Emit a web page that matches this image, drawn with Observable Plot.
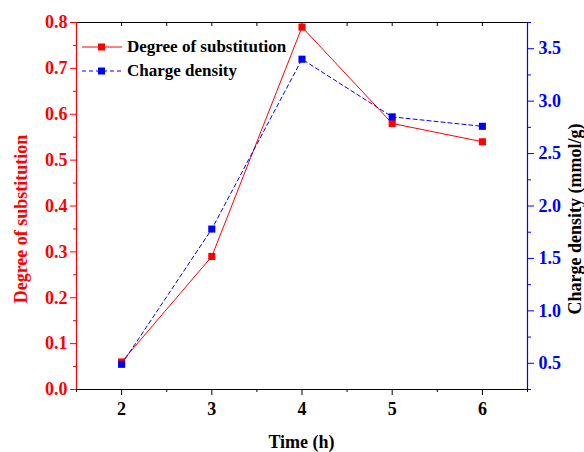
<!DOCTYPE html>
<html><head>
<meta charset="utf-8">
<script src="https://cdn.jsdelivr.net/npm/d3@7"></script>
<script src="https://cdn.jsdelivr.net/npm/@observablehq/plot@0.6"></script>
<style>body{margin:0;background:#fff;} #chart svg{display:block;}</style>
</head><body><div id="chart"></div>
<script>
const times = [2, 3, 4, 5, 6];
const degreeOfSubstitution = [0.06, 0.29, 0.79, 0.58, 0.54];
const chargeDensity = [0.49, 1.78, 3.40, 2.85, 2.76];
const xTicks = [2, 3, 4, 5, 6];
const xMinorTicks = [1.5, 2.5, 3.5, 4.5, 5.5, 6.5];
const xTopTicks = [2, 2.5, 3, 3.5, 4, 4.5, 5, 5.5, 6];
const leftTicks = [0, 0.1, 0.2, 0.3, 0.4, 0.5, 0.6, 0.7, 0.8];
const leftMinorTicks = [0.05, 0.15, 0.25, 0.35, 0.45, 0.55, 0.65, 0.75];
const rightTicks = [0.5, 1.0, 1.5, 2.0, 2.5, 3.0, 3.5];
const rightMinorTicks = [0.25, 0.75, 1.25, 1.75, 2.25, 2.75, 3.25, 3.75];
const seriesNames = ["Degree of substitution", "Charge density"];
const axisTitles = {x: "Time (h)", left: "Degree of substitution", right: "Charge density (mmol/g)"};

const xDomain = [1.5, 6.5];
const dsDomain = [0, 0.8];
const cdDomain = [0.25, 3.75];
const toY = v => dsDomain[0] + (v - cdDomain[0]) / (cdDomain[1] - cdDomain[0]) * (dsDomain[1] - dsDomain[0]);
const fromY = y => cdDomain[0] + (y - dsDomain[0]) / (dsDomain[1] - dsDomain[0]) * (cdDomain[1] - cdDomain[0]);

const RED = "#ff0000", BLUE = "#0000ff";
const DASH = "4,3";
const data = times.map((t, i) => ({t, ds: degreeOfSubstitution[i], cd: toY(chargeDensity[i])}));
const f1 = d3.format(".1f");
const blank = () => "";
const FONT = "'Liberation Serif','Times New Roman',serif";

const chart = Plot.plot({
  width: 584, height: 452,
  marginLeft: 76, marginRight: 57, marginTop: 22, marginBottom: 63,
  style: {fontFamily: FONT, fontSize: "18px", fontWeight: "bold", background: "white", overflow: "visible"},
  x: {domain: xDomain},
  y: {domain: dsDomain},
  marks: [
    Plot.ruleY([dsDomain[1]], {stroke: "black", strokeWidth: 1.2}),
    Plot.ruleY([dsDomain[0]], {stroke: "black", strokeWidth: 1.2}),
    Plot.axisX(xTicks, {anchor: "bottom", tickSize: 6, tickPadding: 7, stroke: "black", fill: "black", tickFormat: d => String(d), label: null, fontSize: 18}),
    Plot.axisX(xMinorTicks, {anchor: "bottom", tickSize: 3, stroke: "black", tickFormat: blank, label: null}),
    Plot.axisX(xTopTicks, {anchor: "top", tickSize: -3, stroke: "black", tickFormat: blank, label: null}),
    Plot.axisY(leftTicks, {anchor: "left", tickSize: 6, tickPadding: 3, color: RED, tickFormat: f1, label: null, fontSize: 18}),
    Plot.axisY(leftMinorTicks, {anchor: "left", tickSize: 3, color: RED, tickFormat: blank, label: null}),
    Plot.axisY(rightTicks.map(toY), {anchor: "right", tickSize: 6, tickPadding: 5, color: BLUE, tickFormat: d => f1(fromY(d)), label: null, fontSize: 18}),
    Plot.axisY(rightMinorTicks.map(toY), {anchor: "right", tickSize: 3, color: BLUE, tickFormat: blank, label: null}),
    Plot.ruleX([xDomain[0]], {stroke: RED, strokeWidth: 1.2}),
    Plot.ruleX([xDomain[1]], {stroke: BLUE, strokeWidth: 1.2}),
    Plot.line(data, {x: "t", y: "ds", stroke: RED, strokeWidth: 1}),
    Plot.dot(data, {x: "t", y: "ds", symbol: "square", r: 4, fill: RED, stroke: "none"}),
    Plot.line(data, {x: "t", y: "cd", stroke: BLUE, strokeWidth: 1, strokeDasharray: DASH}),
    Plot.dot(data, {x: "t", y: "cd", symbol: "square", r: 4, fill: BLUE, stroke: "none"})
  ]
});

const svg = d3.select(chart);

// axis titles
const tg = svg.append("g").attr("font-family", FONT).attr("font-weight", "bold").attr("font-size", 18).attr("text-anchor", "middle");
tg.append("text").attr("x", 301.5).attr("y", 442).attr("dy", "0.32em").attr("fill", "black").text(axisTitles.x);
tg.append("text").attr("transform", "translate(21,219) rotate(-90)").attr("dy", "0.32em").attr("fill", RED).text(axisTitles.left);
tg.append("text").attr("transform", "translate(575,219) rotate(-90)").attr("dy", "0.32em").attr("fill", "black").text(axisTitles.right);

// legend
const lg = svg.append("g").attr("font-family", FONT).attr("font-weight", "bold").attr("font-size", 17).attr("text-anchor", "start");
const entries = [
  {name: seriesNames[0], color: RED, dash: null, y: 47},
  {name: seriesNames[1], color: BLUE, dash: DASH, y: 71}
];
entries.forEach(e => {
  lg.append("line").attr("x1", 82).attr("x2", 122).attr("y1", e.y).attr("y2", e.y)
    .attr("stroke", e.color).attr("stroke-width", 1).attr("stroke-dasharray", e.dash);
  lg.append("rect").attr("x", 98).attr("y", e.y - 3.5).attr("width", 7).attr("height", 7).attr("fill", e.color);
  lg.append("text").attr("x", 127).attr("y", e.y).attr("dy", "0.32em").attr("fill", "black").attr("text-anchor", "start").text(e.name);
});

document.getElementById("chart").appendChild(chart);
</script>
</body></html>
